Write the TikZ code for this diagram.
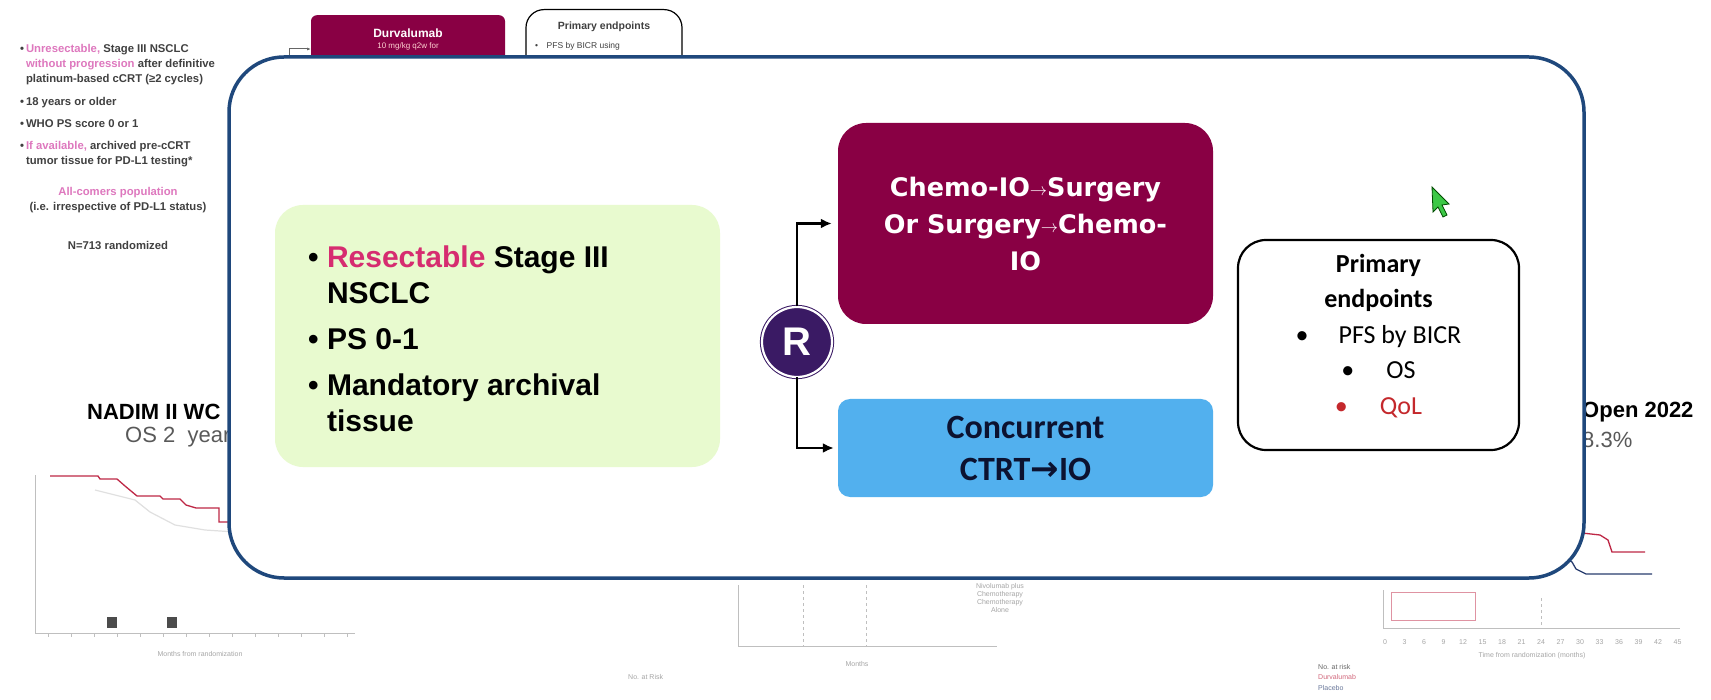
\documentclass[tikz,border=0pt]{standalone}
\usepackage{fontspec}
\setmainfont{Liberation Sans}
\newfontfamily\carlito{Carlito}
\newfontfamily\dejavu{DejaVu Sans}
\usetikzlibrary{arrows.meta,positioning}
\definecolor{framebl}{RGB}{31,72,124}
\definecolor{crgreen}{RGB}{232,250,207}
\definecolor{armmaroon}{RGB}{137,0,68}
\definecolor{armsky}{RGB}{82,176,238}
\definecolor{navytxt}{RGB}{12,18,48}
\definecolor{hotpink}{RGB}{214,44,112}
\definecolor{randpurple}{RGB}{58,26,100}
\definecolor{qolred}{RGB}{196,40,44}
\definecolor{slidepink}{RGB}{222,120,190}
\definecolor{kmred}{RGB}{190,40,70}
\definecolor{kmblue}{RGB}{40,60,110}
\definecolor{cursorgreen}{RGB}{60,200,70}
\newcommand{\thinarrow}{\raisebox{1pt}{\fontsize{19}{19}\selectfont$\rightarrow$}}
\tikzset{
  frame/.style={draw=framebl, line width=3.5pt, fill=white, rounded corners=55pt, minimum width=1355pt, minimum height=521pt},
  criteria/.style={fill=crgreen, rounded corners=28pt, minimum width=445pt, minimum height=262pt},
  surgarm/.style={fill=armmaroon, rounded corners=28pt, minimum width=375pt, minimum height=201pt, align=center, text=white, font=\dejavu\bfseries\fontsize{25.5}{37}\selectfont},
  ctrtarm/.style={fill=armsky, rounded corners=12pt, minimum width=375pt, minimum height=98pt, align=center, text=navytxt, font=\carlito\bfseries\fontsize{34}{42}\selectfont},
  randnode/.style={circle, fill=randpurple, draw=randpurple, double=white, double distance=2.2pt, line width=1pt, minimum size=70pt, inner sep=0pt, text=white, font=\bfseries\fontsize{40}{40}\selectfont},
  endpoints/.style={draw, line width=2.2pt, fill=white, rounded corners=28pt, minimum width=281pt, minimum height=210pt},
  flow/.style={-{Latex[length=11pt,width=10pt]}, line width=2.6pt},
  slidetxt/.style={text=black!75, font=\bfseries\fontsize{11.3}{15}\selectfont, inner sep=0pt},
  faint/.style={black!25, line width=0.8pt},
  fainttxt/.style={text=black!35, font=\fontsize{7}{8}\selectfont, inner sep=0pt},
  bigtitle/.style={font=\bfseries\fontsize{22}{22}\selectfont, inner sep=0pt},
  bigsub/.style={text=black!65, font=\fontsize{22}{22}\selectfont, inner sep=0pt}
}

\begin{document}
\begin{tikzpicture}[x=1pt,y=-1pt]
  \fill[white] (0,0) rectangle (1711,700);
  \useasboundingbox (0,0) rectangle (1711,700);

  % slide behind the overlay
  \node[slidetxt, anchor=north west, align=left] (incl) at (20,44)
    {\textbullet\,\textcolor{slidepink}{Unresectable,} Stage III NSCLC\\
     \hphantom{\textbullet\,}\textcolor{slidepink}{without progression} after definitive\\
     \hphantom{\textbullet\,}platinum-based cCRT (≥2 cycles)\\[8pt]
     \textbullet\,18 years or older\\[7pt]
     \textbullet\,WHO PS score 0 or 1\\[7pt]
     \textbullet\,\textcolor{slidepink}{If available,} archived pre-cCRT\\
     \hphantom{\textbullet\,}tumor tissue for PD-L1 testing*};
  \node[slidetxt, text=slidepink] (allc) at (118,193) {All-comers population};
  \node[slidetxt] (irresp) at (118,208) {(i.e. irrespective of PD-L1 status)};
  \node[slidetxt] (nrand) at (118,245) {N=713 randomized};

  \node[fill=armmaroon, rounded corners=6pt, minimum width=194pt, minimum height=110pt, anchor=north] (durva) at (408,15) {};
  \node[slidetxt, text=white, font=\bfseries\fontsize{12}{12}\selectfont] (durvat) at (408,33) {Durvalumab};
  \node[slidetxt, text=pink!70, font=\fontsize{8}{8}\selectfont] (dose) at (408,46) {10 mg/kg q2w for};
  \coordinate (brk) at (289,75);
  \coordinate (brkin) at (311,49);
  \draw[black!60, line width=1pt, -{Latex[length=4pt]}] (brk) |- (brkin);
  \node[draw, line width=1.2pt, rounded corners=18pt, fill=white, minimum width=156pt, minimum height=110pt, anchor=north] (oldep) at (604,9) {};
  \node[slidetxt, font=\bfseries\fontsize{10.5}{10.5}\selectfont] (oldept) at (604,27) {Primary endpoints};
  \node[slidetxt, anchor=west, font=\fontsize{8.5}{8.5}\selectfont] (oldpfs) at (535,46) {\textbullet\quad PFS by BICR using};

  \node[bigtitle, anchor=west] (nadim) at (87,412) {NADIM II WC};
  \node[bigsub, anchor=west] (os2) at (125,437) {OS 2\ \ years};
  \node[bigtitle, anchor=west] (open) at (1582,412) {Open 2022};
  \node[bigsub, anchor=west] (pct) at (1582,440) {8.3\%};

  % left survival plot
  \draw[faint] (35,475) -- (35,633) -- (355,633);
  \foreach \t in {0,...,13} \draw[faint] ({48+23*\t},633) -- ++(0,4);
  \draw[black!12, line width=1.2pt] (95,490) -- (135,500) -- (150,512) -- (175,525) -- (205,530) -- (235,532);
  \draw[kmred, line width=1.3pt] (50,476) -- (98,476) -- (100,479) -- (117,479) -- (125,486) -- (137,496) -- (160,496) -- (163,499) -- (180,499) -- (186,505) -- (196,508) -- (219,508) -- (219,522) -- (235,522);
  \fill[black!70] (107,617) rectangle (117,628);
  \fill[black!70] (167,617) rectangle (177,628);
  \node[fainttxt] (lmonths) at (200,654) {Months from randomization};

  % centre plot
  \draw[faint] (738,585) -- (738,646) -- (997,646);
  \draw[faint, dashed] (803,585) -- (803,646);
  \draw[faint, dashed] (866,585) -- (866,646);
  \node[fainttxt] (cmonths) at (857,664) {Months};
  \node[fainttxt, anchor=west] (crisk) at (628,677) {No. at Risk};
  \node[fainttxt, align=center] (cleg) at (1000,598) {Nivolumab plus\\Chemotherapy\\Chemotherapy\\Alone};

  % right plot
  \draw[faint] (1383,590) -- (1383,628) -- (1680,628);
  \foreach \m [count=\i from 0] in {0,3,...,45}
    \node[fainttxt] (tk\i) at ({1385+19.5*\i},642) {\m};
  \draw[faint, dashed] (1541,598) -- (1541,628);
  \draw[kmred!50, line width=0.8pt] (1391,592) rectangle (1475,620);
  \draw[kmred, line width=1.3pt] (1573,532) -- (1600,535) -- (1608,540) -- (1612,552) -- (1645,552);
  \draw[kmblue, line width=1.3pt] (1558,555) -- (1572,562) -- (1576,569) -- (1586,574) -- (1652,574);
  \node[fainttxt] (rmonths) at (1532,656) {Time from randomization (months)};
  \node[fainttxt, anchor=west, text=black!60] (rrisk) at (1318,667) {No. at risk};
  \node[fainttxt, anchor=west, text=kmred!70] (rdurva) at (1318,677) {Durvalumab};
  \node[fainttxt, anchor=west, text=kmblue!70] (rplac) at (1318,688) {Placebo};

  % overlay
  \node[frame] (frame) at (906.5,317.5) {};
  \node[criteria] (crit) at (497.5,336) {};
  \node[anchor=west, align=left, inner sep=0pt, font=\bfseries\fontsize{30}{36}\selectfont] (critlist) at (308,339)
    {\textbullet\ \textcolor{hotpink}{Resectable} Stage III\\
     \hphantom{\textbullet\ }NSCLC\\[10pt]
     \textbullet\ PS 0-1\\[10pt]
     \textbullet\ Mandatory archival\\
     \hphantom{\textbullet\ }tissue};

  \node[surgarm] (chemo) at (1025.5,223.5) {Chemo-IO\thinarrow Surgery\\Or Surgery\thinarrow Chemo-\\IO};
  \node[ctrtarm] (ctrt) at (1025.5,448) {Concurrent\\CTRT{\dejavu →}IO};
  \node[randnode] (rand) at (797,342) {R};
  \draw[flow, shorten >=6pt] (rand.north) |- (chemo.west);
  \draw[flow, shorten >=4pt] (rand.south) |- (ctrt.west);

  \node[endpoints] (ep) at (1378.5,345) {};
  \node[align=center, inner sep=0pt, font=\carlito\fontsize{26}{35.5}\selectfont] (eplist) at (1378.5,336)
    {\textbf{Primary}\\\textbf{endpoints}\\•\hspace{30pt}PFS by BICR\\•\hspace{32pt}OS\\\textcolor{qolred}{•\hspace{32pt}QoL}};

  % pointer
  \filldraw[fill=cursorgreen, draw=black!70!green, line width=0.8pt] (1432,187) -- (1433,212) -- (1438,207) -- (1443,217) -- (1447,215) -- (1442,205) -- (1449,204) -- cycle;
\end{tikzpicture}
\end{document}
